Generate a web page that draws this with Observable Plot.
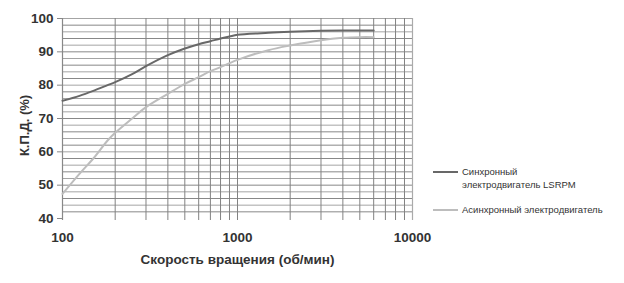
<!DOCTYPE html>
<html>
<head>
<meta charset="utf-8">
<script src="https://cdn.jsdelivr.net/npm/d3@7"></script>
<script src="https://cdn.jsdelivr.net/npm/@observablehq/plot@0.6"></script>
<style>
  html, body { margin: 0; padding: 0; background: #fff; }
  #wrap { position: relative; width: 624px; height: 283px; overflow: hidden; }
  #legend { position: absolute; left: 433px; top: 165px; font-family: "Liberation Sans", Arial, sans-serif; font-size: 9.5px; color: #333; }
  .item { position: absolute; white-space: nowrap; }
  .swatch { position: absolute; width: 25px; height: 2px; }
  .lab { position: absolute; left: 29px; line-height: 13px; }
</style>
</head>
<body>
<div id="wrap"></div>
<script>
// Series: speed (rpm) vs efficiency (%)
const rpm = [100, 125, 150, 181, 200, 250, 300, 400, 500, 600, 700, 800, 900, 1000, 1500, 2000, 3000, 4000, 5000, 6000];
const lsrpm = [75.3, 76.8, 78.3, 80.0, 80.9, 83.3, 85.7, 89.0, 91.0, 92.3, 93.2, 94.0, 94.6, 95.1, 95.7, 96.0, 96.3, 96.4, 96.4, 96.4];
const async = [47.4, 53.4, 58.0, 63.4, 65.7, 70.0, 73.4, 77.4, 80.4, 82.4, 84.2, 85.4, 86.6, 87.6, 90.5, 91.9, 93.5, 94.2, 94.4, 94.4];

const seriesNames = ["Синхронный электродвигатель LSRPM", "Асинхронный электродвигатель"];
const seriesColors = ["#686868", "#bdbdbd"];

const xTicks = [100, 1000, 10000];
const yTicks = [40, 50, 60, 70, 80, 90, 100];
const xGrid = [200, 300, 400, 500, 600, 700, 800, 900, 1000, 2000, 3000, 4000, 5000, 6000, 7000, 8000, 9000];
const yGrid = [42, 44, 46, 48, 50, 52, 54, 56, 58, 60, 62, 64, 66, 68, 70, 72, 74, 76, 78, 80, 82, 84, 86, 88, 90, 92, 94, 96, 98, 100];

const xLabel = "Скорость вращения (об/мин)";
const yLabel = "К.П.Д. (%)";

const data = [];
rpm.forEach((r, i) => {
  data.push({rpm: r, eff: lsrpm[i], s: seriesNames[0]});
});
rpm.forEach((r, i) => {
  data.push({rpm: r, eff: async[i], s: seriesNames[1]});
});

const font = "'Liberation Sans', Arial, sans-serif";

const chart = Plot.plot({
  width: 624,
  height: 283,
  marginLeft: 62,
  marginRight: 212,
  marginTop: 18,
  marginBottom: 65,
  style: {fontFamily: font, background: "#fff"},
  x: {type: "log", domain: [100, 10000]},
  y: {domain: [40, 100]},
  color: {domain: seriesNames, range: seriesColors},
  marks: [
    Plot.ruleY(yGrid, {stroke: (d) => (d % 4 === 0 ? "#a4a4a4" : "#888"), strokeWidth: 1}),
    Plot.ruleX(xGrid, {stroke: "#828282", strokeWidth: 1, insetBottom: -2}),
    Plot.ruleX([10000], {stroke: "#aaa", strokeWidth: 1.2, insetBottom: -2}),
    Plot.ruleX([100], {stroke: "#888", strokeWidth: 1.2, insetBottom: -2}),
    Plot.line(data, {x: "rpm", y: "eff", stroke: "s", z: "s", strokeWidth: 2, curve: "catmull-rom"}),
    Plot.axisY(yTicks, {tickSize: 5, tickPadding: 4, stroke: "#888", fontSize: 13.5, fontWeight: "bold", fill: "#333", label: null}),
    Plot.axisX(xTicks, {tickSize: 0, tickPadding: 14, fontSize: 13.5, fontWeight: "bold", fill: "#333", label: null, tickFormat: (d) => String(d)}),
    Plot.text([xLabel], {frameAnchor: "bottom", dy: 45, fontSize: 13.5, fontWeight: "bold", fill: "#333"}),
    Plot.text([yLabel], {frameAnchor: "left", textAnchor: "middle", dx: -38, dy: 7, rotate: -90, fontSize: 13, fontWeight: "bold", fill: "#333"})
  ]
});

const wrap = document.getElementById("wrap");
wrap.appendChild(chart);

const legend = document.createElement("div");
legend.id = "legend";
legend.innerHTML = `
  <div class="item" style="top:0px">
    <div class="swatch" style="top:6px;background:${seriesColors[0]}"></div>
    <div class="lab" style="top:0px">Синхронный<br>электродвигатель LSRPM</div>
  </div>
  <div class="item" style="top:38px">
    <div class="swatch" style="top:6px;background:${seriesColors[1]}"></div>
    <div class="lab" style="top:0px">Асинхронный электродвигатель</div>
  </div>`;
wrap.appendChild(legend);
</script>
</body>
</html>
